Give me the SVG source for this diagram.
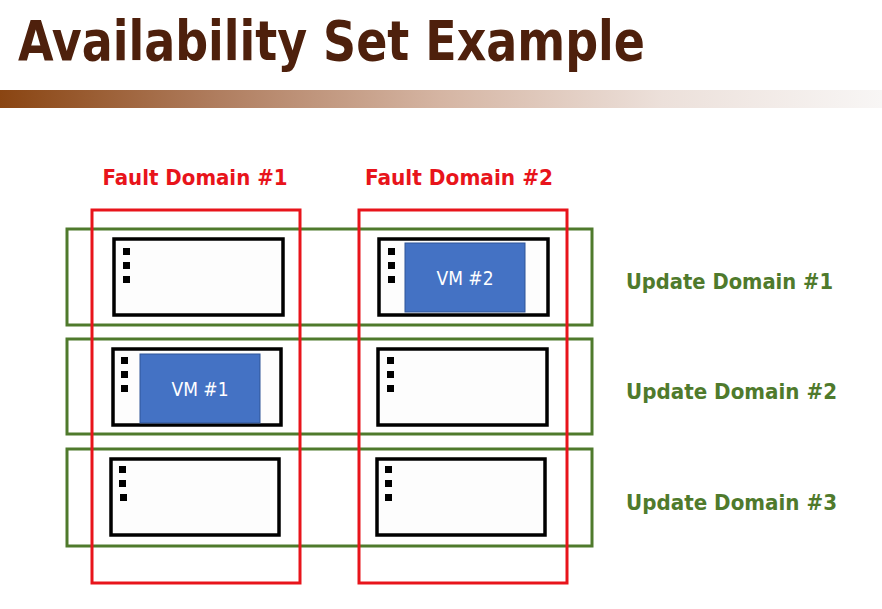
<svg xmlns="http://www.w3.org/2000/svg" width="882" height="609" viewBox="0 0 882 609">
<defs>
<linearGradient id="bar" x1="0" y1="0" x2="1" y2="0">
<stop offset="0" stop-color="#8a4512"/>
<stop offset="0.25" stop-color="#b07e60"/>
<stop offset="0.5" stop-color="#d5b5a3"/>
<stop offset="0.75" stop-color="#ece0da"/>
<stop offset="1" stop-color="#f8f6f5"/>
</linearGradient>
</defs>
<style>
.title{font-family:"DejaVu Sans Condensed","Liberation Sans",sans-serif;font-weight:bold;font-size:56px;fill:#4e200c}
.fd{fill:none;stroke:#e8141b;stroke-width:3}
.ud{fill:none;stroke:#4f7a2c;stroke-width:3}
.srv{fill:#fdfdfd;stroke:#000;stroke-width:3.5}
.dot{fill:#000}
.vm{fill:#4472c4;stroke:#2f5597;stroke-width:1}
.fdt{font-family:"DejaVu Sans Condensed","Liberation Sans",sans-serif;font-weight:bold;font-size:22px;fill:#e8141b;text-anchor:middle}
.udt{font-family:"DejaVu Sans Condensed","Liberation Sans",sans-serif;font-weight:bold;font-size:22px;fill:#4f7a2c}
.vmt{font-family:"DejaVu Sans Condensed","Liberation Sans",sans-serif;font-size:19px;fill:#fff;text-anchor:middle}
</style>
<rect width="882" height="609" fill="#fff"/>
<text class="title" x="18" y="60" textLength="627" lengthAdjust="spacingAndGlyphs">Availability Set Example</text>
<rect x="0" y="90" width="882" height="18" fill="url(#bar)"/>

<g id="labels">
<text class="fdt" x="195" y="185" textLength="185" lengthAdjust="spacingAndGlyphs">Fault Domain #1</text>
<text class="fdt" x="459" y="185" textLength="188" lengthAdjust="spacingAndGlyphs">Fault Domain #2</text>
<text class="udt" x="626" y="289" textLength="207" lengthAdjust="spacingAndGlyphs">Update Domain #1</text>
<text class="udt" x="626" y="399" textLength="211" lengthAdjust="spacingAndGlyphs">Update Domain #2</text>
<text class="udt" x="626" y="510" textLength="211" lengthAdjust="spacingAndGlyphs">Update Domain #3</text>
</g>

<g id="server-1-1">
<rect class="srv" x="114" y="239" width="169" height="76"/>
<rect class="dot" x="123" y="248" width="7" height="7"/><rect class="dot" x="123" y="262" width="7" height="7"/><rect class="dot" x="123" y="276" width="7" height="7"/>
</g>
<g id="server-1-2">
<rect class="srv" x="379" y="239" width="169" height="76"/>
<rect class="dot" x="388" y="248" width="7" height="7"/><rect class="dot" x="388" y="262" width="7" height="7"/><rect class="dot" x="388" y="276" width="7" height="7"/>
<rect class="vm" x="405" y="243" width="120" height="69"/>
<text class="vmt" x="465" y="285">VM #2</text>
</g>
<g id="server-2-1">
<rect class="srv" x="113" y="349" width="168" height="76"/>
<rect class="dot" x="121" y="357" width="7" height="7"/><rect class="dot" x="121" y="371" width="7" height="7"/><rect class="dot" x="121" y="385" width="7" height="7"/>
<rect class="vm" x="140" y="354" width="120" height="69"/>
<text class="vmt" x="200" y="396">VM #1</text>
</g>
<g id="server-2-2">
<rect class="srv" x="378" y="349" width="169" height="76"/>
<rect class="dot" x="387" y="357" width="7" height="7"/><rect class="dot" x="387" y="371" width="7" height="7"/><rect class="dot" x="387" y="385" width="7" height="7"/>
</g>
<g id="server-3-1">
<rect class="srv" x="111" y="459" width="168" height="76"/>
<rect class="dot" x="119" y="466" width="7" height="7"/><rect class="dot" x="119" y="480" width="7" height="7"/><rect class="dot" x="120" y="494" width="7" height="7"/>
</g>
<g id="server-3-2">
<rect class="srv" x="377" y="459" width="168" height="76"/>
<rect class="dot" x="385" y="466" width="7" height="7"/><rect class="dot" x="385" y="480" width="7" height="7"/><rect class="dot" x="385" y="494" width="7" height="7"/>
</g>

<g id="update-domains">
<rect class="ud" x="67" y="229" width="525" height="96"/>
<rect class="ud" x="67" y="339" width="525" height="95"/>
<rect class="ud" x="67" y="449" width="525" height="97"/>
</g>
<g id="fault-domains">
<rect class="fd" x="92" y="210" width="208" height="373"/>
<rect class="fd" x="359" y="210" width="208" height="373"/>
</g>
<g id="connectors"/>
</svg>
